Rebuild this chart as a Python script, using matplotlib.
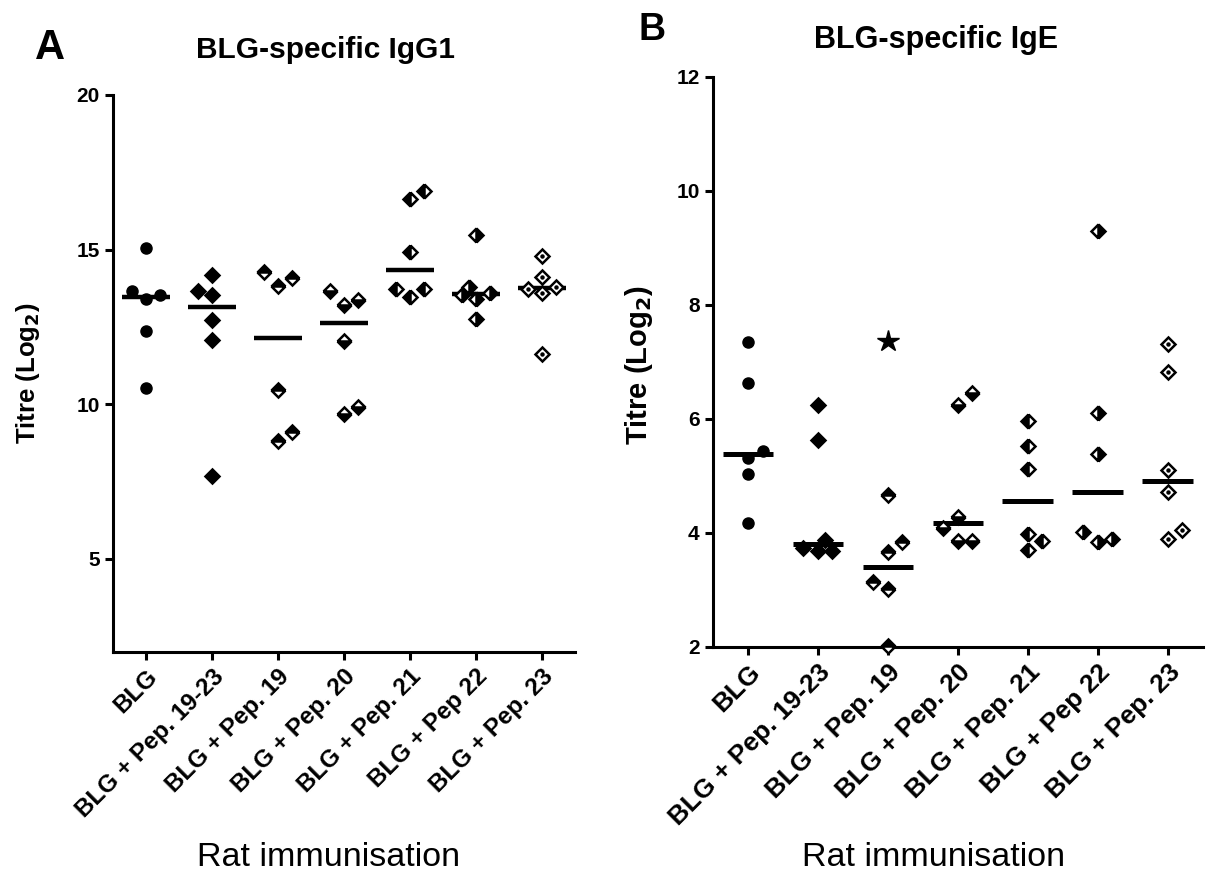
import matplotlib
matplotlib.use("Agg")
import matplotlib.pyplot as plt

plt.rcParams['font.family'] = ['Liberation Sans', 'DejaVu Sans']

# Groups (x axis categories), same for both panels
groups = ['BLG', 'BLG + Pep. 19-23', 'BLG + Pep. 19', 'BLG + Pep. 20',
          'BLG + Pep. 21', 'BLG + Pep 22', 'BLG + Pep. 23']

# Panel A: BLG-specific IgG1 titres (log2), one list per group
igg1 = [
    [15.04, 13.67, 13.42, 13.54, 12.38, 10.54],
    [14.19, 13.67, 13.53, 12.74, 12.09, 7.68],
    [14.28, 13.83, 14.07, 10.45, 8.82, 9.11],
    [13.67, 13.22, 13.37, 12.06, 9.68, 9.91],
    [16.65, 16.91, 14.92, 13.74, 13.48, 13.72],
    [15.47, 13.80, 13.53, 13.40, 13.61, 12.77],
    [14.79, 14.13, 13.74, 13.59, 13.79, 11.61],
]
# horizontal spread of the points inside a column (fraction of column spacing)
igg1_spread = [
    [0, -0.21, 0, 0.21, 0, 0],
    [0, -0.21, 0, 0, 0, 0],
    [-0.21, 0, 0.21, 0, 0, 0.21],
    [-0.21, 0, 0.21, 0, 0, 0.21],
    [0, 0.21, 0, -0.21, 0, 0.21],
    [0, -0.1, -0.21, 0, 0.21, 0],
    [0, 0, -0.21, 0, 0.21, 0],
]
igg1_median = [13.48, 13.14, 12.14, 12.64, 14.33, 13.57, 13.76]

# Panel B: BLG-specific IgE titres (log2)
ige = [
    [7.35, 6.63, 5.31, 5.44, 5.04, 4.18],
    [6.25, 5.62, 3.74, 3.68, 3.68, 3.88],
    [4.66, 3.67, 3.83, 3.13, 3.01, 2.01],
    [6.25, 6.45, 4.28, 4.08, 3.85, 3.86],
    [5.96, 5.52, 5.12, 3.98, 3.86, 3.69],
    [9.30, 6.10, 5.39, 4.02, 3.83, 3.89],
    [7.32, 6.82, 5.11, 4.71, 3.89, 4.05],
]
ige_spread = [
    [0, 0, 0, 0.22, 0, 0],
    [0, 0, -0.21, 0, 0.2, 0.11],
    [0, 0, 0.21, -0.21, 0, 0],
    [0, 0.21, 0, -0.21, 0, 0.21],
    [0, 0, 0, 0, 0.21, 0],
    [0, 0, 0, -0.21, 0, 0.21],
    [0, 0, 0, 0, 0, 0.21],
]
ige_median = [5.38, 3.81, 3.40, 4.17, 4.55, 4.71, 4.91]
ige_star = (2, 7.37)   # separately marked animal in BLG + Pep. 19

# marker fill per group (first group uses circles)
fills = ['full', 'full', 'top', 'bottom', 'left', 'right', 'none']


def draw_panel(ax, values, spread, medians, ms, lw, catsize):
    for i, (vals, offs) in enumerate(zip(values, spread)):
        xs = [i + o for o in offs]
        if i == 0:
            ax.plot(xs, vals, 'o', color='black', ms=ms, clip_on=False, zorder=3)
        elif fills[i] == 'none':
            ax.plot(xs, vals, 'D', mfc='white', mec='black', ms=ms * 0.85,
                    mew=1.8, clip_on=False, zorder=3)
            ax.plot(xs, vals, 'o', color='black', ms=2.2, clip_on=False, zorder=4)
        else:
            ax.plot(xs, vals, 'D', color='black', fillstyle=fills[i],
                    markerfacecoloralt='white', mec='black', ms=ms * 0.85,
                    mew=1.8, clip_on=False, zorder=3)
        ax.hlines(medians[i], i - 0.36, i + 0.36, color='black', lw=lw, zorder=2)

    ax.set_xlim(-0.5, 6.5)
    ax.set_xticks(range(len(groups)))
    ax.set_xticklabels(groups, rotation=45, ha='right', rotation_mode='anchor',
                       fontweight='bold', fontsize=catsize)
    for s in ['top', 'right']:
        ax.spines[s].set_visible(False)
    for s in ['left', 'bottom']:
        ax.spines[s].set_linewidth(2.2)
    ax.tick_params(width=2.2, length=6)
    ax.tick_params(axis='y', labelsize=15)
    for lab in ax.get_yticklabels():
        lab.set_fontweight('bold')


fig = plt.figure(figsize=(12.08, 8.92), dpi=100)

# Panel A
axA = fig.add_axes([0.0935, 0.2694, 0.3825, 0.6241])
axA.set_ylim(2, 20)
axA.set_yticks([5, 10, 15, 20])
draw_panel(axA, igg1, igg1_spread, igg1_median, ms=8, lw=3.2, catsize=17.5)
axA.set_ylabel('Titre (Log$_\\mathbf{2}$)', fontsize=18.5, fontweight='bold')
axA.yaxis.set_label_coords(-0.153, 0.5)
fig.text(326 / 1208, 1 - 58 / 892, 'BLG-specific IgG1', fontsize=21.5,
         fontweight='bold', ha='center', va='baseline')
fig.text(329 / 1208, 1 - 857 / 892, 'Rat immunisation', fontsize=24.5,
         ha='center', va='center')
fig.text(50 / 1208, 1 - 48 / 892, 'A', fontsize=30, fontweight='bold',
         ha='center', va='center')

# Panel B
axB = fig.add_axes([0.59, 0.275, 0.4056, 0.6387])
axB.set_ylim(2, 12)
axB.set_yticks([2, 4, 6, 8, 10, 12])
draw_panel(axB, ige, ige_spread, ige_median, ms=8, lw=3.6, catsize=19)
axB.plot(ige_star[0], ige_star[1], '*', color='black', ms=16, zorder=3)
axB.set_ylabel('Titre (Log$_\\mathbf{2}$)', fontsize=21, fontweight='bold')
axB.yaxis.set_label_coords(-0.118, 0.494)
fig.text(936 / 1208, 1 - 48 / 892, 'BLG-specific IgE', fontsize=22,
         fontweight='bold', ha='center', va='baseline')
fig.text(934 / 1208, 1 - 857 / 892, 'Rat immunisation', fontsize=24.5,
         ha='center', va='center')
fig.text(652 / 1208, 1 - 30 / 892, 'B', fontsize=27, fontweight='bold',
         ha='center', va='center')

fig.savefig('out.png', dpi=100)
